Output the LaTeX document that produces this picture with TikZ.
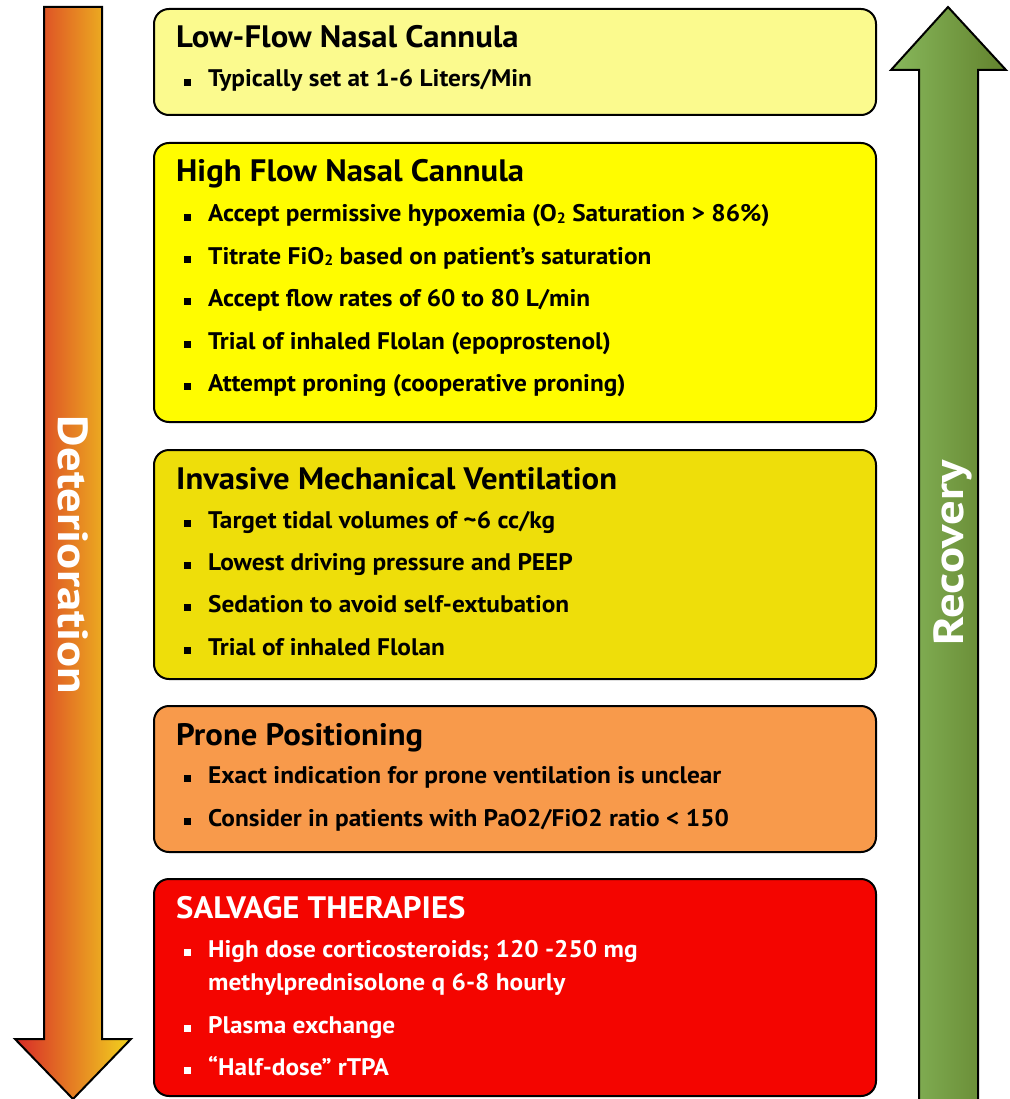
\documentclass[tikz,border=0pt]{standalone}
\usepackage{fontspec}
\setmainfont{PT Sans}[FakeStretch=1.055]
\newfontfamily\vfont{PT Sans}[FakeStretch=1.16]
\definecolor{c1}{HTML}{FBFA8E}
\definecolor{c2}{HTML}{FFFC00}
\definecolor{c3}{HTML}{EEDE0A}
\definecolor{c4}{HTML}{F89A4B}
\definecolor{c5}{HTML}{F40500}
\tikzset{
 box/.style={draw=black, line width=2pt, rounded corners=15pt, anchor=north west, inner sep=0pt, minimum width=722pt},
 ttl/.style={anchor=base west, inner sep=0pt, font=\fontsize{31}{36}\selectfont\bfseries},
 itm/.style={anchor=base west, inner sep=0pt, font=\fontsize{24}{28}\selectfont\bfseries},
 bul/.style={minimum size=7pt, inner sep=0pt, anchor=south west},
 arr/.style={draw=black, line width=2pt, line join=miter},
 vlab/.style={text=white, inner sep=0pt, anchor=base, font=\vfont\fontsize{42}{48}\selectfont\bfseries}
}
\newcommand\bitem[4][black]{%
 \node[bul,fill=#1] (#2b) at (184,{#3-1}) {};
 \node[itm,text=#1] (#2) at (208,#3) {#4};}
\newcommand\subtwo{\raisebox{-1.5pt}{\fontsize{15}{15}\selectfont 2}}
\begin{document}
\begin{tikzpicture}[x=1pt,y=-1pt]
\useasboundingbox (0,0) rectangle (1009,1099);
% arrows
\shade[left color={rgb,255:red,216;green,42;blue,40}, right color={rgb,255:red,242;green,212;blue,30}]
 (44,7) -- (102,7) -- (102,1039) -- (131,1039) -- (73,1099) -- (15,1039) -- (44,1039) -- cycle;
\draw[arr] (44,7) -- (102,7) -- (102,1039) -- (131,1039) -- (73,1099) -- (15,1039) -- (44,1039) -- cycle;
\shade[left color={rgb,255:red,136;green,184;blue,92}, right color={rgb,255:red,98;green,130;blue,45}]
 (948,7) -- (1006,70) -- (978,70) -- (978,1110) -- (919,1110) -- (919,70) -- (891,70) -- cycle;
\draw[arr] (948,7) -- (1006,70) -- (978,70) -- (978,1110) -- (919,1110) -- (919,70) -- (891,70) -- cycle;
\node[vlab, rotate=-90] (det) at (58,555) {Deterioration};
\node[vlab, rotate=90] (rec) at (963,553) {Recovery};
% boxes
\node[box, fill=c1, minimum height=106pt] (b1) at (153,8) {};
\node[box, fill=c2, minimum height=279pt] (b2) at (153,142) {};
\node[box, fill=c3, minimum height=229pt] (b3) at (153,449) {};
\node[box, fill=c4, minimum height=146pt] (b4) at (153,705) {};
\node[box, fill=c5, minimum height=217pt] (b5) at (153,878) {};
% box 1
\node[ttl] (t1) at (176,48) {Low-Flow Nasal Cannula};
\bitem{i11}{87}{Typically set at 1-6 Liters/Min}
% box 2
\node[ttl] (t2) at (176,182) {High Flow Nasal Cannula};
\bitem{i21}{222}{Accept permissive hypoxemia (O\subtwo\ Saturation > 86\%)}
\bitem{i22}{264}{Titrate FiO\subtwo\ based on patient’s saturation}
\bitem{i23}{306}{Accept flow rates of 60 to 80 L/min}
\bitem{i24}{349}{Trial of inhaled Flolan (epoprostenol)}
\bitem{i25}{391}{Attempt proning (cooperative proning)}
% box 3
\node[ttl] (t3) at (176,489) {Invasive Mechanical Ventilation};
\bitem{i31}{528}{Target tidal volumes of \textasciitilde6 cc/kg}
\bitem{i32}{570}{Lowest driving pressure and PEEP}
\bitem{i33}{612}{Sedation to avoid self-extubation}
\bitem{i34}{655}{Trial of inhaled Flolan}
% box 4
\node[ttl] (t4) at (176,745) {Prone Positioning};
\bitem{i41}{783}{Exact indication for prone ventilation is unclear}
\bitem{i42}{826}{Consider in patients with PaO2/FiO2 ratio < 150}
% box 5
\node[ttl, text=white] (t5) at (176,918) {SALVAGE THERAPIES};
\bitem[white]{i51}{957}{High dose corticosteroids; 120 -250 mg}
\node[itm, text=white] (i51c) at (208,990) {methylprednisolone q 6-8 hourly};
\bitem[white]{i52}{1033}{Plasma exchange}
\bitem[white]{i53}{1075}{“Half-dose” rTPA}
\end{tikzpicture}
\end{document}
